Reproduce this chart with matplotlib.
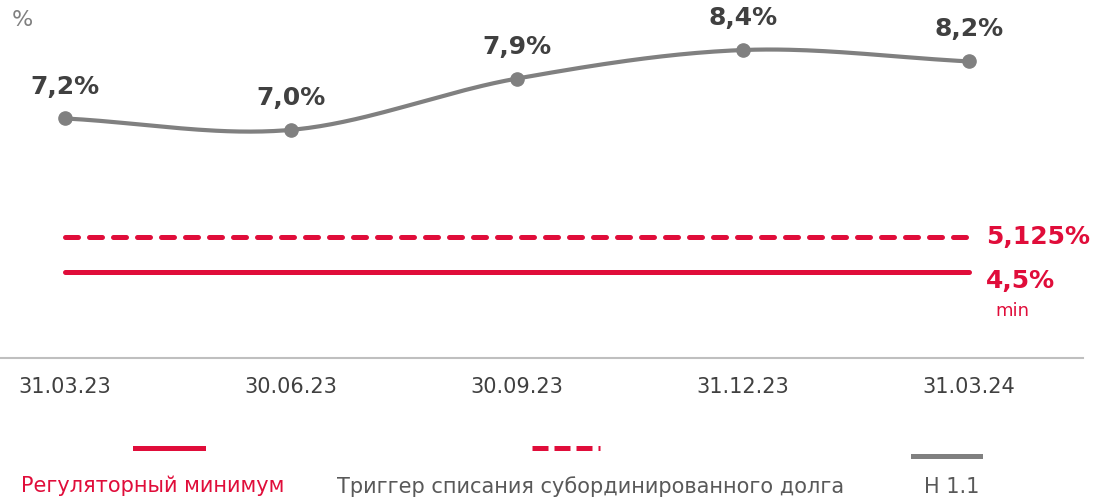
import numpy as np
import matplotlib
matplotlib.use("Agg")
import matplotlib.pyplot as plt
from matplotlib.lines import Line2D

dates = ["31.03.23", "30.06.23", "30.09.23", "31.12.23", "31.03.24"]
n11 = [7.2, 7.0, 7.9, 8.4, 8.2]
n11_labels = ["7,2%", "7,0%", "7,9%", "8,4%", "8,2%"]
trigger = 5.125
reg_min = 4.5

RED = "#E00D3A"
GRAY = "#808080"
DARK = "#404040"


def smooth(x, y, steps=40):
    # Catmull-Rom curve through the points, like Excel's smoothed line
    x = np.asarray(x, float)
    y = np.asarray(y, float)
    px = np.concatenate([[2 * x[0] - x[1]], x, [2 * x[-1] - x[-2]]])
    py = np.concatenate([[2 * y[0] - y[1]], y, [2 * y[-1] - y[-2]]])
    xs, ys = [], []
    t = np.linspace(0, 1, steps)
    for i in range(1, len(px) - 2):
        for p, out in ((px, xs), (py, ys)):
            p0, p1, p2, p3 = p[i - 1], p[i], p[i + 1], p[i + 2]
            out.extend(0.5 * (2 * p1 + (-p0 + p2) * t
                              + (2 * p0 - 5 * p1 + 4 * p2 - p3) * t ** 2
                              + (-p0 + 3 * p1 - 3 * p2 + p3) * t ** 3))
    return np.array(xs), np.array(ys)


fig = plt.figure(figsize=(10.97, 5.01), dpi=100)
ax = fig.add_axes([0, 143 / 501, 1083 / 1097, 358 / 501])
x = np.arange(len(dates))

ax.plot(x[[0, -1]], [trigger, trigger], color=RED, lw=3.6, ls=(0, (2.6, 2.2)),
        dash_capstyle="round")
ax.plot(x[[0, -1]], [reg_min, reg_min], color=RED, lw=3.6, solid_capstyle="round")

sx, sy = smooth(x, n11)
ax.plot(sx, sy, color=GRAY, lw=3.0)
ax.plot(x, n11, "o", color=GRAY, ms=9.5)

for xi, yi, lab in zip(x, n11, n11_labels):
    ax.annotate(lab, (xi, yi), xytext=(0, 23), textcoords="offset points",
                ha="center", va="center", fontsize=18, fontweight="bold", color=DARK)

ax.annotate("5,125%", (x[-1], trigger), xytext=(12, 0), textcoords="offset points",
            ha="left", va="center", fontsize=18, fontweight="bold", color=RED)
ax.annotate("4,5%", (x[-1], reg_min), xytext=(12, -6), textcoords="offset points",
            ha="left", va="center", fontsize=18, fontweight="bold", color=RED)
ax.annotate("min", (x[-1], reg_min), xytext=(19, -28), textcoords="offset points",
            ha="left", va="center", fontsize=13, color=RED)

ax.set_xlim(-0.288, 4.504)
ax.set_ylim(3.0, 9.277)
ax.set_xticks(x)
ax.set_xticklabels(dates, fontsize=15, color=DARK)
ax.tick_params(axis="x", length=0, pad=14)
ax.set_yticks([])
for side in ["top", "right", "left"]:
    ax.spines[side].set_visible(False)
ax.spines["bottom"].set_color("#BFBFBF")
ax.spines["bottom"].set_linewidth(1.5)

fig.text(12 / 1097, 1 - 20 / 501, "%", fontsize=16, color=GRAY, ha="left", va="center")

# legend drawn by hand
W, H = 1097, 501
def leg_line(x0, x1, y, **kw):
    fig.add_artist(Line2D([x0 / W, x1 / W], [1 - y / H, 1 - y / H], **kw))

leg_line(135, 203, 448, color=RED, lw=3.6)
leg_line(532, 600, 448, color=RED, lw=3.6, ls=(0, (3.2, 1.2)))
leg_line(913, 980, 456, color=GRAY, lw=3.6)
fig.text(153 / W, 1 - 486 / H, "Регуляторный минимум", fontsize=15, color=RED,
         ha="center", va="center")
fig.text(591 / W, 1 - 487 / H, "Триггер списания субординированного долга", fontsize=15,
         color="#595959", ha="center", va="center")
fig.text(952 / W, 1 - 487 / H, "Н 1.1", fontsize=15, color="#595959",
         ha="center", va="center")

fig.savefig("out.png", dpi=100)
